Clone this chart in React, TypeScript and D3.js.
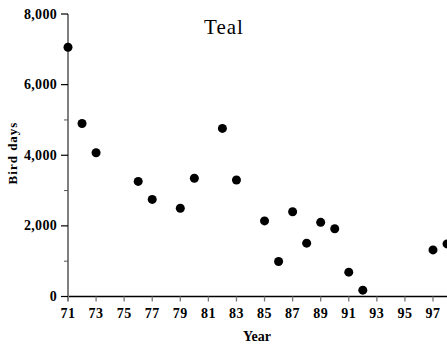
import React, { useEffect, useRef } from 'react';
import * as d3 from 'd3';

const years = [71, 72, 73, 76, 77, 79, 80, 82, 83, 85, 86, 87, 88, 89, 90, 91, 92, 97, 98];
const birdDays = [7060, 4900, 4070, 3260, 2750, 2500, 3350, 4760, 3300, 2140, 990, 2400, 1510, 2100, 1920, 690, 180, 1320, 1490];
const xTicks = [71, 73, 75, 77, 79, 81, 83, 85, 87, 89, 91, 93, 95, 97];
const yTicks = [0, 2000, 4000, 6000, 8000];
const yMinor = [1000, 3000, 5000, 7000];

const App = () => {
  const svgRef = useRef<SVGSVGElement>(null);

  useEffect(() => {
    const svg = d3.select(svgRef.current);
    svg.selectAll('*').remove();
    const width = 447;
    const height = 349;
    const font = '"Liberation Serif", "Times New Roman", serif';

    const x = d3.scaleLinear().domain([71, 97]).range([68, 433]);
    const y = d3.scaleLinear().domain([0, 8000]).range([296.5, 14]);

    // x axis
    svg.append('line')
      .attr('x1', x(71)).attr('x2', width)
      .attr('y1', y(0)).attr('y2', y(0))
      .attr('stroke', '#000').attr('stroke-width', 1.3);

    svg.append('g').selectAll('line')
      .data(xTicks.slice(1))
      .join('line')
      .attr('x1', d => x(d)).attr('x2', d => x(d))
      .attr('y1', y(0)).attr('y2', y(0) + 5)
      .attr('stroke', '#777').attr('stroke-width', 1.3);

    svg.append('g').selectAll('text')
      .data(xTicks)
      .join('text')
      .attr('x', d => x(d))
      .attr('y', y(0) + 21.5)
      .attr('text-anchor', 'middle')
      .style('font-family', font)
      .style('font-size', '14px')
      .style('font-weight', 'bold')
      .style('letter-spacing', '0.5px')
      .text(d => d);

    // y axis
    svg.append('line')
      .attr('x1', x(71)).attr('x2', x(71))
      .attr('y1', y(8000)).attr('y2', y(0) + 5)
      .attr('stroke', '#808080').attr('stroke-width', 2);

    svg.append('g').selectAll('line')
      .data(yTicks)
      .join('line')
      .attr('x1', x(71) - 7).attr('x2', x(71))
      .attr('y1', d => y(d)).attr('y2', d => y(d))
      .attr('stroke', '#000').attr('stroke-width', 1.2);

    svg.append('g').selectAll('line')
      .data(yMinor)
      .join('line')
      .attr('x1', x(71) - 4).attr('x2', x(71))
      .attr('y1', d => y(d)).attr('y2', d => y(d))
      .attr('stroke', '#555').attr('stroke-width', 1);

    svg.append('g').selectAll('text')
      .data(yTicks)
      .join('text')
      .attr('x', x(71) - 11)
      .attr('y', d => y(d) + 4.5)
      .attr('text-anchor', 'end')
      .style('font-family', font)
      .style('font-size', '14px')
      .style('font-weight', 'bold')
      .style('letter-spacing', '0.3px')
      .text(d => d3.format(',')(d));

    // points
    svg.append('g').selectAll('circle')
      .data(years.map((yr, i) => ({ yr, v: birdDays[i] })))
      .join('circle')
      .attr('cx', d => x(d.yr))
      .attr('cy', d => y(d.v))
      .attr('r', 4.5)
      .attr('fill', '#000');

    // labels
    svg.append('text')
      .attr('x', 224).attr('y', 34)
      .attr('text-anchor', 'middle')
      .style('font-family', font)
      .style('font-size', '21px')
      .style('letter-spacing', '1px')
      .text('Teal');

    svg.append('text')
      .attr('transform', `translate(17,153) rotate(-90)`)
      .attr('text-anchor', 'middle')
      .style('font-family', font)
      .style('font-size', '13px')
      .style('font-weight', 'bold')
      .style('letter-spacing', '1px')
      .text('Bird days');

    svg.append('text')
      .attr('x', 257).attr('y', 341)
      .attr('text-anchor', 'middle')
      .style('font-family', font)
      .style('font-size', '14px')
      .style('font-weight', 'bold')
      .text('Year');

    svg.attr('width', width).attr('height', height);
  }, []);

  return (
    <svg ref={svgRef} width={447} height={349}
      style={{ position: 'absolute', left: 0, top: 0, background: '#fff' }} />
  );
};

export default App;
